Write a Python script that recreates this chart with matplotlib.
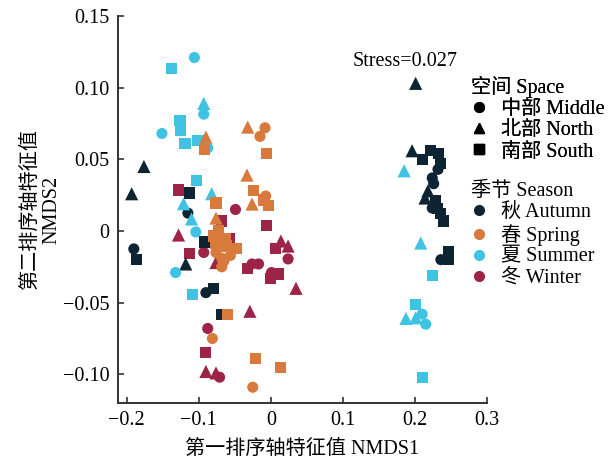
"""
NMDS ordination of samples by space and season.
"""

import matplotlib
matplotlib.use("Agg")
import matplotlib.pyplot as plt
from matplotlib.lines import Line2D
from matplotlib.ticker import FuncFormatter

plt.rcParams["font.family"] = ["Liberation Serif", "Noto Sans CJK SC"]
plt.rcParams["font.size"] = 14.5
plt.rcParams["axes.unicode_minus"] = True

# NMDS1 / NMDS2 scores, grouped by season then space
autumn_middle_x = [-0.115, -0.190, -0.090, 0.232, 0.224, 0.226, 0.224, 0.236]
autumn_middle_y = [0.0125, -0.0125, -0.043, 0.043, 0.037, 0.033, 0.016, -0.020]
autumn_north_x = [-0.176, -0.193, -0.118, 0.201, 0.196, 0.218, 0.214]
autumn_north_y = [0.045, 0.026, -0.023, 0.103, 0.056, 0.028, 0.023]
autumn_south_x = [-0.1125, -0.186, -0.092, -0.079, -0.068, 0.210, 0.222, 0.233,
                  0.236, 0.229, 0.231, 0.236, 0.240, 0.246, 0.247]
autumn_south_y = [0.0265, -0.020, -0.0077, -0.040, -0.0585, 0.050, 0.056, 0.054,
                  0.047, 0.021, 0.016, 0.012, 0.007, -0.014, -0.0195]

spring_middle_x = [-0.008, -0.015, -0.007, -0.076, -0.068, -0.056, -0.065, -0.068,
                   -0.081, -0.025]
spring_middle_y = [0.072, 0.066, 0.0244, -0.015, -0.019, -0.017, -0.021, -0.025,
                   -0.075, -0.109]
spring_north_x = [-0.032, -0.090, -0.033, -0.026, -0.076]
spring_north_y = [0.0725, 0.0655, 0.039, 0.0188, 0.009]
spring_south_x = [-0.092, -0.006, -0.024, -0.010, -0.003, -0.076, -0.072, -0.079,
                  -0.0625, -0.076, -0.061, -0.047, -0.060, -0.021, 0.014]
spring_south_y = [0.057, 0.054, 0.028, 0.0216, 0.018, 0.0195, 0.0, -0.0035,
                  -0.0056, -0.0084, -0.0105, -0.012, -0.058, -0.089, -0.095]

summer_middle_x = [-0.106, -0.093, -0.151, -0.0875, -0.104, -0.132, 0.210, 0.215]
summer_middle_y = [0.121, 0.0815, 0.068, 0.058, -0.0007, -0.029, -0.058, -0.065]
summer_north_x = [-0.093, -0.082, -0.121, -0.110, 0.185, 0.208, 0.1875, 0.201]
summer_north_y = [0.089, 0.026, 0.019, 0.0084, 0.042, -0.0084, -0.061, -0.0606]
summer_south_x = [-0.1375, -0.126, -0.125, -0.119, -0.101, -0.103, -0.108, 0.224,
                  0.201, 0.211]
summer_south_y = [0.1136, 0.077, 0.070, 0.061, 0.063, 0.0355, -0.044, -0.031,
                  -0.051, -0.102]

winter_middle_x = [-0.049, -0.093, 0.024, -0.026, -0.017, 0.001, -0.0875, -0.071]
winter_middle_y = [0.015, -0.015, -0.0195, -0.023, -0.023, -0.029, -0.068, -0.102]
winter_north_x = [-0.128, 0.014, 0.024, -0.076, 0.035, -0.029, -0.090, -0.076]
winter_north_y = [-0.0028, -0.007, -0.0105, -0.022, -0.040, -0.056, -0.098, -0.099]
winter_south_x = [-0.128, -0.068, -0.006, -0.058, 0.007, -0.1125, -0.032, 0.011,
                  0.0, -0.090]
winter_south_y = [0.0286, 0.007, 0.004, -0.005, -0.012, -0.016, -0.026, -0.030,
                  -0.033, -0.085]

season_labels = ["秋 Autumn", "春 Spring", "夏 Summer", "冬 Winter"]
space_labels = ["中部 Middle", "北部 North", "南部 South"]
colors = {"Autumn": "#0e2433", "Spring": "#d97a3d", "Summer": "#3ec3e3", "Winter": "#9c2447"}
markers = {"Middle": "o", "North": "^", "South": "s"}
sizes = {"Middle": 64, "North": 90, "South": 64}

groups = [
    ("Winter", "Middle", winter_middle_x, winter_middle_y),
    ("Winter", "North", winter_north_x, winter_north_y),
    ("Winter", "South", winter_south_x, winter_south_y),
    ("Autumn", "Middle", autumn_middle_x, autumn_middle_y),
    ("Autumn", "North", autumn_north_x, autumn_north_y),
    ("Autumn", "South", autumn_south_x, autumn_south_y),
    ("Summer", "Middle", summer_middle_x, summer_middle_y),
    ("Summer", "North", summer_north_x, summer_north_y),
    ("Summer", "South", summer_south_x, summer_south_y),
    ("Spring", "Middle", spring_middle_x, spring_middle_y),
    ("Spring", "North", spring_north_x, spring_north_y),
    ("Spring", "South", spring_south_x, spring_south_y),
]


def fmt(v, pos):
    if abs(v) < 1e-9:
        return "0"
    return ("%.1f" % v).replace("-", "\u2212")


def fmt_y(v, pos):
    if abs(v) < 1e-9:
        return "0"
    return ("%.2f" % v).replace("-", "\u2212")


def main():
    fig = plt.figure(figsize=(6.1, 4.62), dpi=100)
    ax = fig.add_axes([0.1934, 0.1277, 0.605, 0.8377])

    for season, space, xs, ys in groups:
        ax.scatter(xs, ys, s=sizes[space], marker=markers[space], color=colors[season],
                   edgecolors="none", zorder=2)

    ax.set_xlim(-0.212, 0.3)
    ax.set_ylim(-0.12, 0.15)
    ax.set_xticks([-0.2, -0.1, 0, 0.1, 0.2, 0.3])
    ax.set_yticks([-0.10, -0.05, 0, 0.05, 0.10, 0.15])
    ax.xaxis.set_major_formatter(FuncFormatter(fmt))
    ax.yaxis.set_major_formatter(FuncFormatter(fmt_y))
    ax.tick_params(direction="in", length=4, width=1.2, color="#333333", pad=6)
    for side in ["top", "right"]:
        ax.spines[side].set_visible(False)
    for side in ["left", "bottom"]:
        ax.spines[side].set_linewidth(1.4)
        ax.spines[side].set_color("#333333")

    ax.set_xlabel("第一排序轴特征值 NMDS1", labelpad=7)
    ax.set_ylabel("第二排序轴特征值\nNMDS2", labelpad=1)

    ax.text(0.186, 0.118, "Stress=0.027", ha="center", va="center")

    space_handles = [Line2D([], [], marker=markers[k], color="black", linestyle="",
                            markersize=7) for k in ["Middle", "North", "South"]]
    season_handles = [Line2D([], [], marker="o", color=colors[k], linestyle="",
                             markersize=7) for k in ["Autumn", "Spring", "Summer", "Winter"]]

    leg1 = fig.legend(space_handles, space_labels, title="空间 Space",
                      loc="upper left", bbox_to_anchor=(0.772, 0.835),
                      frameon=False, alignment="left", handlelength=0.8,
                      handletextpad=0.7, labelspacing=0.1, borderpad=0,
                      borderaxespad=0, title_fontsize=14.5)
    fig.legend(season_handles, season_labels, title="季节 Season",
               loc="upper left", bbox_to_anchor=(0.772, 0.607),
               frameon=False, alignment="left", handlelength=0.8,
               handletextpad=0.7, labelspacing=0.1, borderpad=0,
               borderaxespad=0, title_fontsize=14.5)
    fig.add_artist(leg1)

    fig.savefig("out.png", dpi=100)


if __name__ == "__main__":
    main()
